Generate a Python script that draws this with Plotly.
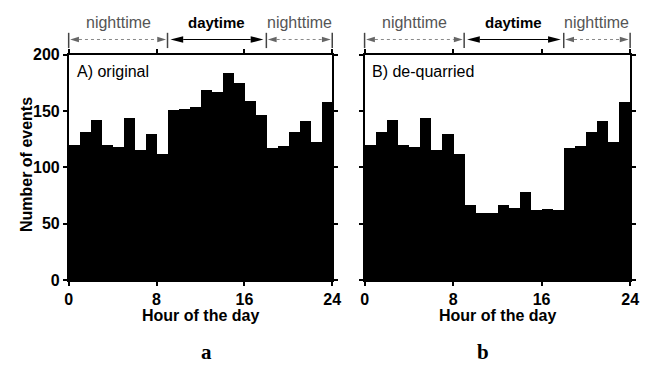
import plotly.graph_objects as go

# Hourly event counts (one bar per hour of the day)
hours = list(range(24))
original = [120, 132, 142, 120, 118, 144, 116, 130, 112, 151, 152, 154,
            169, 167, 184, 175, 159, 147, 117, 119, 132, 141, 123, 158]
dequarried = [120, 132, 142, 120, 118, 144, 116, 130, 112, 67, 60, 60,
              67, 64, 78, 62, 63, 62, 117, 119, 132, 141, 123, 158]

y_ticks = [0, 50, 100, 150, 200]
x_ticks = [0, 8, 16, 24]

# Day/night periods shown above each panel (start hour, end hour)
period_names = ["nighttime", "daytime", "nighttime"]
period_starts = [0, 9, 18]
period_ends = [9, 18, 24]

panel_titles = ["A) original", "B) de-quarried"]
panel_letters = ["a", "b"]

W, H = 645, 373
FONT = "Liberation Sans"
px, py = 1.0 / W, 1.0 / H

x_domains = [(66 / W, 335 / W), (368 / W, 639 / W)]
y_domain = [(H - 285) / H, (H - 49) / H]

fig = go.Figure()

series = [original, dequarried]
for i, vals in enumerate(series):
    suffix = "" if i == 0 else str(i + 1)
    fig.add_trace(go.Bar(
        x=hours, y=vals, width=1, offset=0,
        marker=dict(color="black", line=dict(width=0)),
        xaxis="x" + suffix, yaxis="y" + suffix, showlegend=False,
        hoverinfo="x+y",
    ))

axis_style = dict(
    showline=True, linecolor="black", linewidth=1.5, mirror="ticks",
    ticks="outside", ticklen=4, tickwidth=1.5, tickcolor="black",
    showgrid=False, zeroline=False,
    tickfont=dict(family=FONT, size=16, color="black", weight="bold"),
)

layout = dict(
    width=W, height=H,
    margin=dict(l=0, r=0, t=0, b=0, pad=0),
    paper_bgcolor="white", plot_bgcolor="white",
    bargap=0, showlegend=False,
    font=dict(family=FONT, color="black"),
)
for i in range(2):
    suffix = "" if i == 0 else str(i + 1)
    layout["xaxis" + suffix] = dict(
        axis_style, domain=list(x_domains[i]), range=[0, 24],
        tickvals=x_ticks, anchor="y" + suffix,
    )
    layout["yaxis" + suffix] = dict(
        axis_style, domain=y_domain, range=[0, 200], tickvals=y_ticks,
        anchor="x" + suffix, showticklabels=(i == 0),
    )
fig.update_layout(**layout)


def hour_to_paper(panel, h):
    d0, d1 = x_domains[panel]
    return d0 + (d1 - d0) * h / 24.0


y_arrow = 1 - 33 * py
y_text = 1 - 15 * py
tick_top, tick_bot = 1 - 26 * py, 1 - 42 * py

shapes = []
annotations = []


def head(x_tip, direction, length, half, color):
    xb = x_tip - direction * length * px
    return dict(
        type="path", xref="paper", yref="paper",
        path=f"M {x_tip},{y_arrow} L {xb},{y_arrow + half * py} "
             f"L {xb},{y_arrow - half * py} Z",
        fillcolor=color, line=dict(width=0), layer="above",
    )


for p in range(2):
    # vertical boundary marks
    bounds = sorted(set(period_starts + period_ends))
    for b in bounds:
        xb = hour_to_paper(p, b)
        shapes.append(dict(type="line", xref="paper", yref="paper",
                           x0=xb, x1=xb, y0=tick_bot, y1=tick_top,
                           line=dict(color="#444444", width=1.5)))
    for name, s, e in zip(period_names, period_starts, period_ends):
        is_day = name == "daytime"
        color = "black" if is_day else "#666666"
        L, hh, gap = (13, 3.5, 3) if is_day else (9, 3, 1.5)
        xs = hour_to_paper(p, s) + gap * px
        xe = hour_to_paper(p, e) - gap * px
        shapes.append(dict(type="line", xref="paper", yref="paper",
                           x0=xs + L * px, x1=xe - L * px,
                           y0=y_arrow, y1=y_arrow,
                           line=dict(color=color if is_day else "#888888",
                                     width=1.2 if is_day else 1,
                                     dash="solid" if is_day else "dot")))
        shapes.append(head(xs, -1, L, hh, color))
        shapes.append(head(xe, 1, L, hh, color))
        annotations.append(dict(
            text=name, xref="paper", yref="paper",
            x=(hour_to_paper(p, s) + hour_to_paper(p, e)) / 2, y=y_text,
            xanchor="center", yanchor="middle", showarrow=False,
            font=dict(family=FONT, size=15 if is_day else 16,
                      color="black" if is_day else "#555555",
                      weight="bold" if is_day else "normal"),
        ))

    # panel title inside the frame
    annotations.append(dict(
        text=panel_titles[p], xref="paper", yref="paper",
        x=x_domains[p][0] + 6 * px, y=1 - 67 * py,
        xanchor="left", yanchor="middle", showarrow=False,
        font=dict(family=FONT, size=16, color="black"),
    ))
    # x-axis title
    annotations.append(dict(
        text="Hour of the day", xref="paper", yref="paper",
        x=sum(x_domains[p]) / 2, y=1 - 322 * py,
        xanchor="center", yanchor="middle", showarrow=False,
        font=dict(family=FONT, size=16, color="black", weight="bold"),
    ))

# y-axis title
annotations.append(dict(
    text="Number of events", xref="paper", yref="paper",
    x=23 * px, y=1 - 164 * py, textangle=-90,
    xanchor="center", yanchor="middle", showarrow=False,
    font=dict(family=FONT, size=16, color="black", weight="bold"),
))

# subfigure letters
for p, (letter, cx) in enumerate(zip(panel_letters, [207, 489])):
    annotations.append(dict(
        text=letter, xref="paper", yref="paper",
        x=cx * px, y=1 - 360 * py,
        xanchor="center", yanchor="middle", showarrow=False,
        font=dict(family="Liberation Serif", size=21, color="black",
                  weight="bold"),
    ))

fig.update_layout(shapes=shapes, annotations=annotations)
fig.write_html("out.html")
